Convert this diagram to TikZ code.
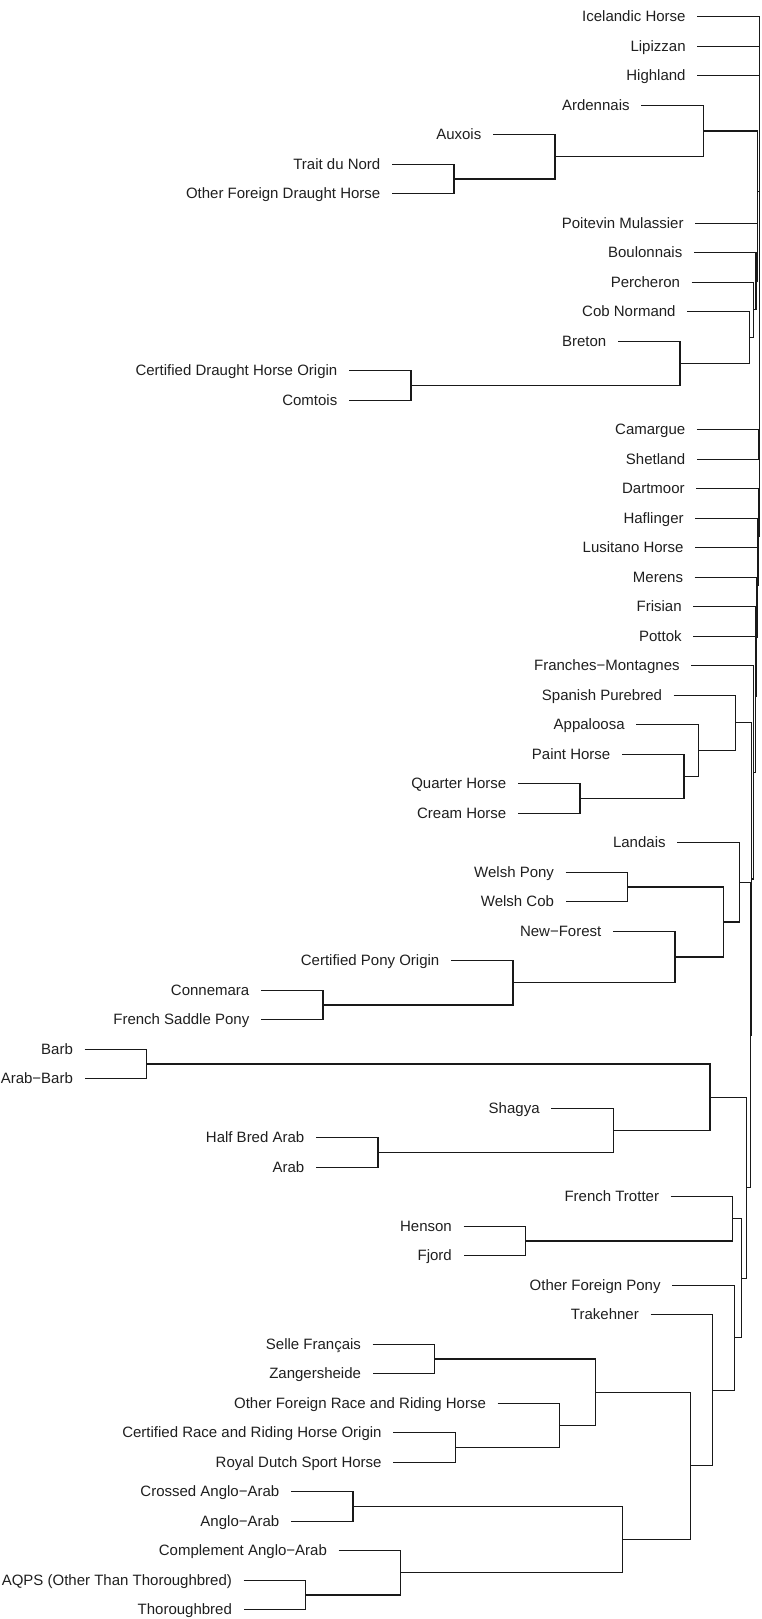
\documentclass[tikz,border=0pt]{standalone}
\usepackage{fontspec}
\setmainfont{Liberation Sans}
\usetikzlibrary{calc}
\tikzset{
  lab/.style={anchor=base east, inner sep=0pt, text=black!88, font=\fontsize{15}{18}\selectfont},
  br/.style={draw=black!90, line width=1.1pt}
}
% leaf: name, y, parent height, label
\newcommand\lf[4]{%
  \coordinate (#1) at ({#3-62},#2);
  \node[lab] (#1t) at ([xshift=-11.5pt,yshift=-5.2pt]#1) {#4};}
% merge: name, child1, child2, height
\newcommand\mrg[4]{%
  \path let \p1=($(#2)!0.5!(#3)$) in coordinate (#1) at (#4pt,\y1);
  \draw[br] (#2) -| (#1) |- (#3);}
\begin{document}
\begin{tikzpicture}[x=1pt,y=-1pt]
\useasboundingbox (0,0) rectangle (761,1619);
\lf{l0}{16.7}{759.3}{Icelandic Horse}
\lf{l1}{46.2}{759.3}{Lipizzan}
\lf{l2}{75.7}{759.3}{Highland}
\lf{l3}{105.2}{703.3}{Ardennais}
\lf{l4}{134.7}{555}{Auxois}
\lf{l5}{164.2}{454}{Trait du Nord}
\lf{l6}{193.7}{454}{Other Foreign Draught Horse}
\lf{l7}{223.2}{757.3}{Poitevin Mulassier}
\lf{l8}{252.7}{756}{Boulonnais}
\lf{l9}{282.2}{753.7}{Percheron}
\lf{l10}{311.7}{749.3}{Cob Normand}
\lf{l11}{341.2}{680}{Breton}
\lf{l12}{370.7}{411}{Certified Draught Horse Origin}
\lf{l13}{400.2}{411}{Comtois}
\lf{l14}{429.7}{758.9}{Camargue}
\lf{l15}{459.2}{758.9}{Shetland}
\lf{l16}{488.7}{758.3}{Dartmoor}
\lf{l17}{518.2}{757.3}{Haflinger}
\lf{l18}{547.7}{757.3}{Lusitano Horse}
\lf{l19}{577.2}{756.7}{Merens}
\lf{l20}{606.7}{755.3}{Frisian}
\lf{l21}{636.2}{755.3}{Pottok}
\lf{l22}{665.7}{753.3}{Franches−Montagnes}
\lf{l23}{695.2}{735.7}{Spanish Purebred}
\lf{l24}{724.7}{698.3}{Appaloosa}
\lf{l25}{754.2}{684}{Paint Horse}
\lf{l26}{783.7}{580}{Quarter Horse}
\lf{l27}{813.2}{580}{Cream Horse}
\lf{l28}{842.7}{739.3}{Landais}
\lf{l29}{872.2}{627.7}{Welsh Pony}
\lf{l30}{901.7}{627.7}{Welsh Cob}
\lf{l31}{931.2}{675}{New−Forest}
\lf{l32}{960.7}{513}{Certified Pony Origin}
\lf{l33}{990.2}{323}{Connemara}
\lf{l34}{1019.7}{323}{French Saddle Pony}
\lf{l35}{1049.2}{146.6}{Barb}
\lf{l36}{1078.7}{146.6}{Arab−Barb}
\lf{l37}{1108.2}{613.3}{Shagya}
\lf{l38}{1137.7}{378}{Half Bred Arab}
\lf{l39}{1167.2}{378}{Arab}
\lf{l40}{1196.7}{732.7}{French Trotter}
\lf{l41}{1226.2}{525.5}{Henson}
\lf{l42}{1255.7}{525.5}{Fjord}
\lf{l43}{1285.2}{734.3}{Other Foreign Pony}
\lf{l44}{1314.7}{712.5}{Trakehner}
\lf{l45}{1344.2}{434.7}{Selle Français}
\lf{l46}{1373.7}{434.7}{Zangersheide}
\lf{l47}{1403.2}{559.6}{Other Foreign Race and Riding Horse}
\lf{l48}{1432.7}{455.3}{Certified Race and Riding Horse Origin}
\lf{l49}{1462.2}{455.3}{Royal Dutch Sport Horse}
\lf{l50}{1491.7}{353}{Crossed Anglo−Arab}
\lf{l51}{1521.2}{353}{Anglo−Arab}
\lf{l52}{1550.7}{400.6}{Complement Anglo−Arab}
\lf{l53}{1580.2}{305.6}{AQPS (Other Than Thoroughbred)}
\lf{l54}{1609.7}{305.6}{Thoroughbred}
% draught group
\mrg{mTO}{l5}{l6}{454}
\mrg{mAux}{l4}{mTO}{555}
\mrg{mArd}{l3}{mAux}{703.3}
\mrg{mCC}{l12}{l13}{411}
\mrg{mBre}{l11}{mCC}{680}
\mrg{mCob}{l10}{mBre}{749.3}
\mrg{mPer}{l9}{mCob}{753.7}
\mrg{mBou}{l8}{mPer}{756}
\mrg{mPoi}{l7}{mBou}{757.3}
\mrg{D1}{mArd}{mPoi}{757.5}
% western / pony groups
\mrg{QC}{l26}{l27}{580}
\mrg{PG}{l25}{QC}{684}
\mrg{AP}{l24}{PG}{698.3}
\mrg{SP}{l23}{AP}{735.7}
\mrg{CF}{l33}{l34}{323}
\mrg{CPOg}{l32}{CF}{513}
\mrg{NF}{l31}{CPOg}{675}
\mrg{WPC}{l29}{l30}{627.7}
\mrg{WG}{WPC}{NF}{723.7}
\mrg{LG}{l28}{WG}{739.3}
% arab group
\mrg{BB}{l35}{l36}{146.6}
\mrg{HA}{l38}{l39}{378}
\mrg{SH}{l37}{HA}{613.3}
\mrg{BG}{BB}{SH}{710}
% trotter / sport group
\mrg{HF}{l41}{l42}{525.5}
\mrg{FTg}{l40}{HF}{732.7}
\mrg{SZ}{l45}{l46}{434.7}
\mrg{CR}{l48}{l49}{455.3}
\mrg{OF}{l47}{CR}{559.6}
\mrg{SFg}{SZ}{OF}{595.8}
\mrg{CAA}{l50}{l51}{353}
\mrg{AT}{l53}{l54}{305.6}
\mrg{CAg}{l52}{AT}{400.6}
\mrg{AAg}{CAA}{CAg}{622.6}
\mrg{S}{SFg}{AAg}{690.8}
\mrg{Tg}{l44}{S}{712.5}
\mrg{OFPg}{l43}{Tg}{734.3}
\mrg{FO}{FTg}{OFPg}{741.7}
\mrg{BFT}{BG}{FO}{746.7}
\mrg{L}{LG}{BFT}{750.3}
\mrg{N1}{SP}{L}{751.7}
\mrg{N2}{l22}{N1}{753.3}
\mrg{FP}{l20}{l21}{755.3}
\mrg{N3}{FP}{N2}{755.9}
\mrg{N4}{l19}{N3}{756.7}
\mrg{HL}{l17}{l18}{757.3}
\mrg{N5}{HL}{N4}{757.7}
\mrg{N6}{l16}{N5}{758.3}
\mrg{CS}{l14}{l15}{758.9}
\mrg{N7}{CS}{N6}{759.1}
\mrg{R3}{D1}{N7}{759.3}
\mrg{R2}{l2}{R3}{759.3}
\mrg{R1}{l1}{R2}{759.3}
\mrg{R0}{l0}{R1}{759.3}
\end{tikzpicture}
\end{document}
